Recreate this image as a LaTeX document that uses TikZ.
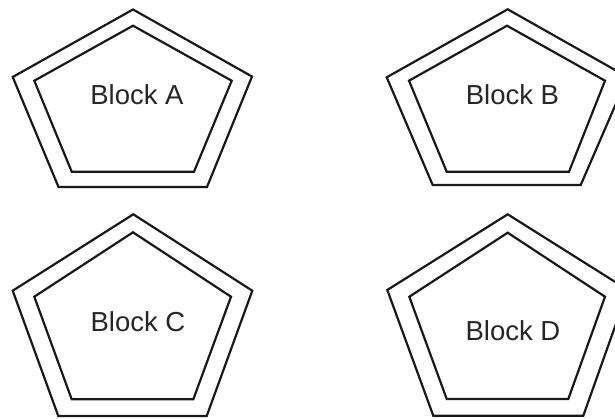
\documentclass[tikz,border=0pt]{standalone}
\usepackage{fontspec}
\setmainfont{Liberation Sans}
\begin{document}
\begin{tikzpicture}[x=1pt,y=-1pt,
  pent/.style={draw=black!90,line width=2.2pt,line join=miter},
  lbl/.style={font=\fontsize{27.5}{30}\selectfont,text=black!85,inner sep=0pt}]
\useasboundingbox (0,0) rectangle (615,418);
\clip (0,0) rectangle (615,418);
% Block A
\draw[pent] (133,9.5) -- (252,76.5) -- (207,187) -- (58.5,187) -- (12.7,77) -- cycle;
\draw[pent] (133,25.7) -- (231.7,80.7) -- (194,171.7) -- (71.7,171.7) -- (34.3,80.7) -- cycle;
\node[lbl] (a) at (137,95) {Block A};
% Block B
\draw[pent] (507.7,9.3) -- (627.5,77) -- (580.7,185) -- (432.7,185) -- (386.7,77.3) -- cycle;
\draw[pent] (507,25.7) -- (605,80.7) -- (569,171.7) -- (446.7,171.7) -- (409,80.7) -- cycle;
\node[lbl] (b) at (512.5,95) {Block B};
% Block C
\draw[pent] (133.3,214.3) -- (252.3,290.7) -- (206.7,416) -- (58.3,416) -- (12.7,290.7) -- cycle;
\draw[pent] (133,232.3) -- (231,296.7) -- (193.3,399.3) -- (71.7,399.3) -- (34.3,296.7) -- cycle;
\node[lbl] (c) at (138,321.7) {Block C};
% Block D
\draw[pent] (507.7,214.3) -- (628,290) -- (583.3,415.7) -- (433.3,415.7) -- (387.3,290) -- cycle;
\draw[pent] (507.7,232.7) -- (605,296.7) -- (568.3,399) -- (446.7,399) -- (409.3,296.7) -- cycle;
\node[lbl] (d) at (513,331) {Block D};
\end{tikzpicture}
\end{document}
